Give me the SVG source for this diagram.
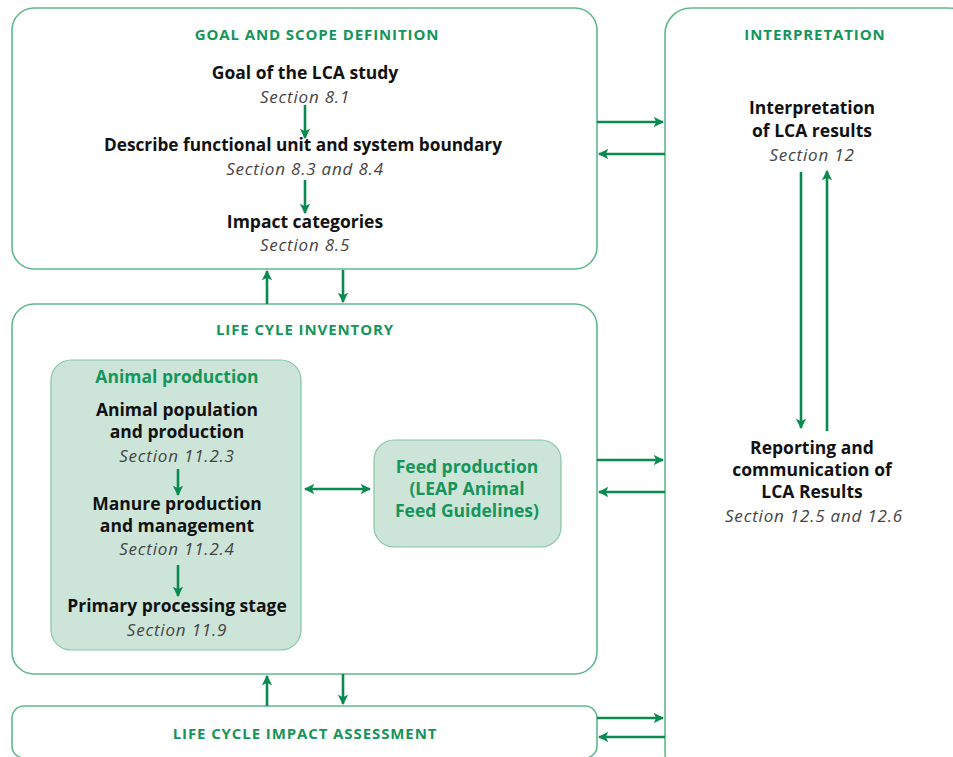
<svg xmlns="http://www.w3.org/2000/svg" width="953" height="757" viewBox="0 0 953 757">
<defs>
<marker id="ah" viewBox="0 0 10 10" refX="9" refY="5" markerWidth="4" markerHeight="4" orient="auto-start-reverse" markerUnits="strokeWidth">
<path d="M0,0 L10,5 L0,10 L2.5,5 Z" fill="#0b8a50"/>
</marker>
<style>
.box{fill:#fff;stroke:#5fb98c;stroke-width:1.6}
.sub{fill:#cde4d9;stroke:#86c6a5;stroke-width:1.2}
.hd{font-family:"Open Sans","Liberation Sans",sans-serif;font-weight:bold;font-size:15px;letter-spacing:0.9px;fill:#15955a;text-anchor:middle}
.gt{font-family:"Open Sans","Liberation Sans",sans-serif;font-weight:bold;font-size:17.5px;fill:#15955a;text-anchor:middle}
.b{font-family:"Open Sans","Liberation Sans",sans-serif;font-weight:bold;font-size:17.5px;fill:#111;text-anchor:middle}
.i{font-family:"Open Sans","Liberation Sans",sans-serif;font-style:italic;font-size:17px;letter-spacing:0.8px;fill:#444;text-anchor:middle}
.c{stroke:#0b8a50;stroke-width:2.6;fill:none}
</style>
</defs>
<g id="goal">
<rect class="box" x="12" y="8" width="585" height="261" rx="22"/>
<text class="hd" x="317" y="40">GOAL AND SCOPE DEFINITION</text>
<text class="b" x="305" y="79">Goal of the LCA study</text>
<text class="i" x="305" y="103">Section 8.1</text>
<text class="b" x="303" y="151" textLength="398" lengthAdjust="spacingAndGlyphs">Describe functional unit and system boundary</text>
<text class="i" x="305" y="175">Section 8.3 and 8.4</text>
<text class="b" x="305" y="228">Impact categories</text>
<text class="i" x="305" y="251">Section 8.5</text>
</g>
<g id="interpretation">
<rect class="box" x="665" y="8" width="310" height="770" rx="26"/>
<text class="hd" x="815" y="40">INTERPRETATION</text>
<text class="b" x="812" y="114">Interpretation</text>
<text class="b" x="812" y="137">of LCA results</text>
<text class="i" x="812" y="161">Section 12</text>
<text class="b" x="812" y="454">Reporting and</text>
<text class="b" x="812" y="476">communication of</text>
<text class="b" x="812" y="498">LCA Results</text>
<text class="i" x="814" y="522">Section 12.5 and 12.6</text>
</g>
<g id="lci">
<rect class="box" x="12" y="304" width="585" height="370" rx="22"/>
<text class="hd" x="305" y="335">LIFE CYLE INVENTORY</text>
</g>
<g id="animal">
<rect class="sub" x="51" y="360" width="250" height="290" rx="20"/>
<text class="gt" x="177" y="383">Animal production</text>
<text class="b" x="177" y="416">Animal population</text>
<text class="b" x="177" y="438">and production</text>
<text class="i" x="177" y="462">Section 11.2.3</text>
<text class="b" x="177" y="510">Manure production</text>
<text class="b" x="177" y="532">and management</text>
<text class="i" x="177" y="555">Section 11.2.4</text>
<text class="b" x="177" y="612">Primary processing stage</text>
<text class="i" x="177" y="636">Section 11.9</text>
</g>
<g id="feed">
<rect class="sub" x="374" y="440" width="187" height="107" rx="20"/>
<text class="gt" x="467" y="473">Feed production</text>
<text class="gt" x="467" y="495">(LEAP Animal</text>
<text class="gt" x="467" y="517">Feed Guidelines)</text>
</g>
<g id="lcia">
<rect class="box" x="12" y="706" width="585" height="52" rx="12"/>
<text class="hd" x="305" y="739">LIFE CYCLE IMPACT ASSESSMENT</text>
</g>
<g id="connectors">
<line class="c" x1="305" y1="105" x2="305" y2="138" marker-end="url(#ah)"/>
<line class="c" x1="305" y1="180" x2="305" y2="213" marker-end="url(#ah)"/>
<line class="c" x1="267" y1="304" x2="267" y2="271" marker-end="url(#ah)"/>
<line class="c" x1="343" y1="270" x2="343" y2="302" marker-end="url(#ah)"/>
<line class="c" x1="267" y1="706" x2="267" y2="676" marker-end="url(#ah)"/>
<line class="c" x1="343" y1="674" x2="343" y2="704" marker-end="url(#ah)"/>
<line class="c" x1="597" y1="122" x2="663" y2="122" marker-end="url(#ah)"/>
<line class="c" x1="665" y1="154" x2="599" y2="154" marker-end="url(#ah)"/>
<line class="c" x1="597" y1="460" x2="663" y2="460" marker-end="url(#ah)"/>
<line class="c" x1="665" y1="492" x2="599" y2="492" marker-end="url(#ah)"/>
<line class="c" x1="597" y1="718" x2="663" y2="718" marker-end="url(#ah)"/>
<line class="c" x1="665" y1="737" x2="599" y2="737" marker-end="url(#ah)"/>
<line class="c" x1="801" y1="172" x2="801" y2="428" marker-end="url(#ah)"/>
<line class="c" x1="827" y1="431" x2="827" y2="171" marker-end="url(#ah)"/>
<line class="c" x1="305" y1="489" x2="370" y2="489" marker-start="url(#ah)" marker-end="url(#ah)"/>
<line class="c" x1="178" y1="469" x2="178" y2="495" marker-end="url(#ah)"/>
<line class="c" x1="178" y1="565" x2="178" y2="596" marker-end="url(#ah)"/>
</g>
</svg>
